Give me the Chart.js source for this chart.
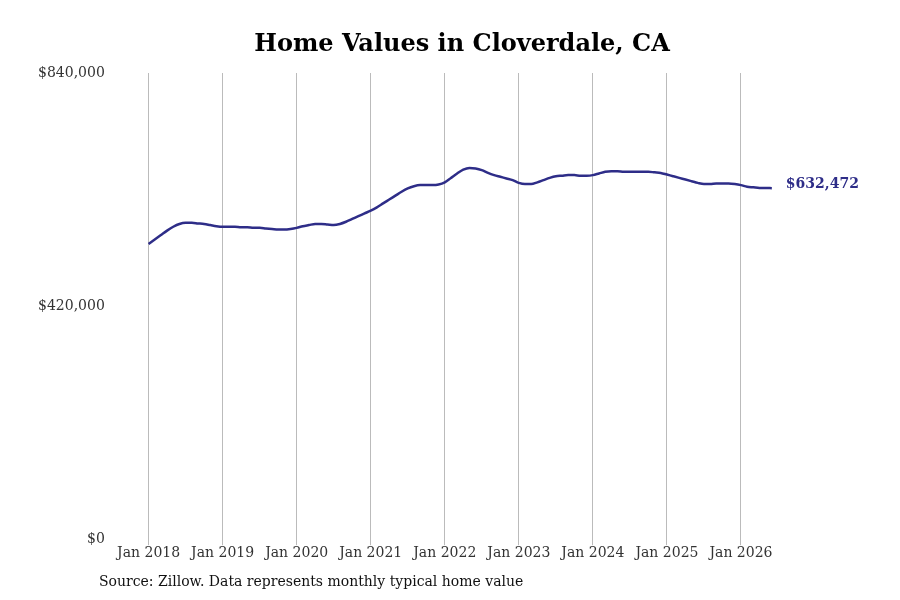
<!DOCTYPE html>
<html><head><meta charset="utf-8">
<script src="https://cdn.jsdelivr.net/npm/chart.js@4"></script>
<style>body{margin:0;background:#fff}#w{width:900px;height:600px;position:relative}</style>
</head><body><div id="w"><canvas id="c" width="900" height="600"></canvas></div>
<script>
const yearLabels = ["Jan 2018","Jan 2019","Jan 2020","Jan 2021","Jan 2022","Jan 2023","Jan 2024","Jan 2025","Jan 2026"];
const yTicks = [0, 420000, 840000];
// monthly typical home values, Jan 2018 - Jul 2026 (thousands)
const values = [
532,540,548,556,563,568,570,570,569,568,566,564,
563,563,563,562,562,561,561,560,559,558,558,559,
561,564,566,568,568,567,566,568,572,577,582,587,
592,598,605,612,619,626,632,636,638,638,638,639,
643,651,659,666,669,668,665,660,656,653,650,647,
642,640,640,643,647,651,654,655,656,656,655,655,
656,659,662,663,663,662,662,662,662,662,661,660,
657,654,651,648,645,642,640,640,641,641,641,640,
638,635,634,633,632.8,632.472
].map(v=>v*1000);
const lastLabel = "$632,472";
const titleText = "Home Values in Cloverdale, CA";
const pts = values.map((v,i)=>({x:i,y:v}));
const deco = {id:'deco',afterDraw(ch){
  const m=ch.getDatasetMeta(0).data; const p=m[m.length-1];
  const c=ch.ctx; c.save();
  c.font='bold 14px "DejaVu Serif"'; c.fillStyle='#2e2d88'; c.textBaseline='middle';
  c.fillText(lastLabel,p.x+14,p.y-4);
  c.font='bold 24px "DejaVu Serif"'; c.fillStyle='#000'; c.textAlign='center';
  c.fillText(titleText,462,45);
  c.textAlign='left'; c.font='14px "DejaVu Serif"'; c.fillStyle='#111';
  c.fillText('Source: Zillow. Data represents monthly typical home value',99,582);
  c.restore();
}};
new Chart(document.getElementById('c'),{
  type:'line',
  data:{datasets:[{data:pts,borderColor:'#2e2d88',borderWidth:2.5,pointRadius:0,cubicInterpolationMode:'monotone'}]},
  options:{responsive:false,animation:false,
    layout:{padding:{left:30,right:122,top:73,bottom:38}},
    plugins:{legend:{display:false},tooltip:{enabled:false},title:{display:false}},
    scales:{
      x:{type:'linear',min:-4.5,max:102,
        afterBuildTicks(s){s.ticks=yearLabels.map((l,i)=>({value:i*12}));},
        ticks:{callback:(v)=>yearLabels[Math.round(v/12)],font:{family:'DejaVu Serif',size:14},color:'#333',maxRotation:0,autoSkip:false,padding:0},
        grid:{color:'#bbb',drawTicks:true,tickLength:6},border:{display:false}},
      y:{min:0,max:840000,
        afterBuildTicks(s){s.ticks=yTicks.map(v=>({value:v}));},
        ticks:{callback:v=>'$'+v.toLocaleString('en-US'),font:{family:'DejaVu Serif',size:14},color:'#333',padding:8},
        grid:{display:false},border:{display:false}}
    }},
  plugins:[deco]
});
</script></body></html>
